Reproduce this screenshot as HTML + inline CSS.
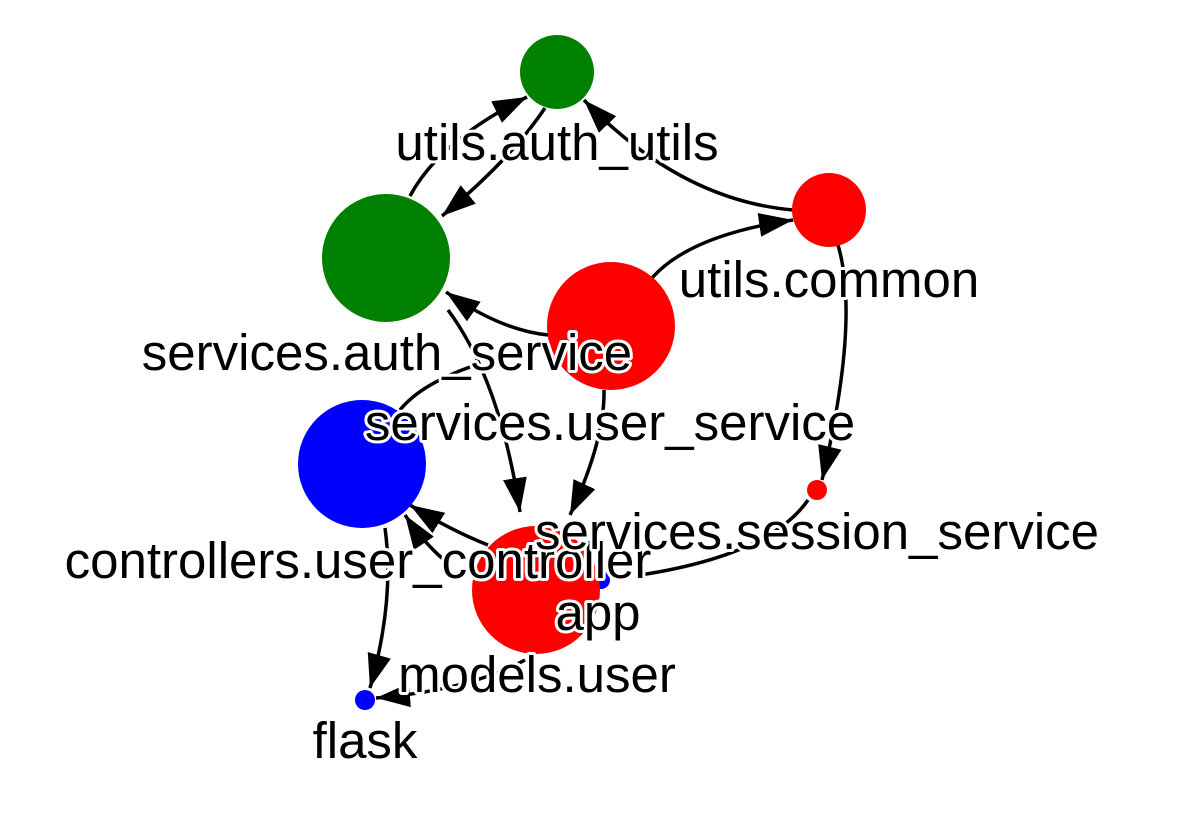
<!DOCTYPE html>
<html><head><meta charset="utf-8"><style>
html,body{margin:0;padding:0;background:#fff;}
svg text{font-family:"Liberation Sans",Arial,sans-serif;font-size:51px;text-anchor:middle;fill:#000;stroke:#fff;stroke-width:6px;paint-order:stroke;stroke-linejoin:round;}
</style></head><body>
<svg width="1194" height="808" viewBox="0 0 1194 808" xmlns="http://www.w3.org/2000/svg">
<defs>
<marker id="a" viewBox="0 0 34 24" refX="34" refY="12" markerWidth="34" markerHeight="24" markerUnits="userSpaceOnUse" orient="auto">
<path d="M0,0 L34,12 L0,24 z" fill="#000"/>
</marker>
</defs>
<g fill="none" stroke="#000" stroke-width="3.5" marker-end="url(#a)">
<path d="M410,196 Q440,140 527,97"/>
<path d="M545,108 Q510,160 442,216"/>
<path d="M793,210 Q680,200 584,100"/>
<path d="M652,278 Q690,235 793,220"/>
<path d="M548,335 Q500,330 446,292"/>
<path d="M448,310 Q500,380 520,512"/>
<path d="M604,390 Q605,440 570,515"/>
<path d="M838,245 Q860,320 822,480"/>
<path d="M488,545 Q450,530 410,505"/>
<path d="M450,565 Q425,545 405,515"/>
<path d="M385,528 Q395,600 370,688"/>
<path d="M525,660 Q470,690 376,698"/>
</g>
<g fill="none" stroke="#000" stroke-width="3.5">
<path d="M808,500 Q770,555 640,575"/>
<path d="M470,367 Q420,385 400,410"/>
</g>
<circle cx="557" cy="72" r="37" fill="#008000"/>
<circle cx="386" cy="258" r="64" fill="#008000"/>
<circle cx="829" cy="210" r="37" fill="#ff0000"/>
<circle cx="611" cy="326" r="64" fill="#ff0000"/>
<circle cx="362" cy="464" r="64" fill="#0000ff"/>
<circle cx="601" cy="580" r="9" fill="#0000ff"/>
<circle cx="536" cy="590" r="64" fill="#ff0000"/>
<circle cx="817" cy="490" r="10" fill="#ff0000"/>
<circle cx="365" cy="700" r="10" fill="#0000ff"/>
<text x="557" y="160">utils.auth_utils</text>
<text x="387" y="370">services.auth_service</text>
<text x="829" y="297">utils.common</text>
<text x="610" y="440">services.user_service</text>
<text x="358" y="578">controllers.user_controller</text>
<text x="817" y="549">services.session_service</text>
<text x="598" y="630">app</text>
<text x="537" y="692">models.user</text>
<text x="365" y="758">flask</text>
</svg>
</body></html>
